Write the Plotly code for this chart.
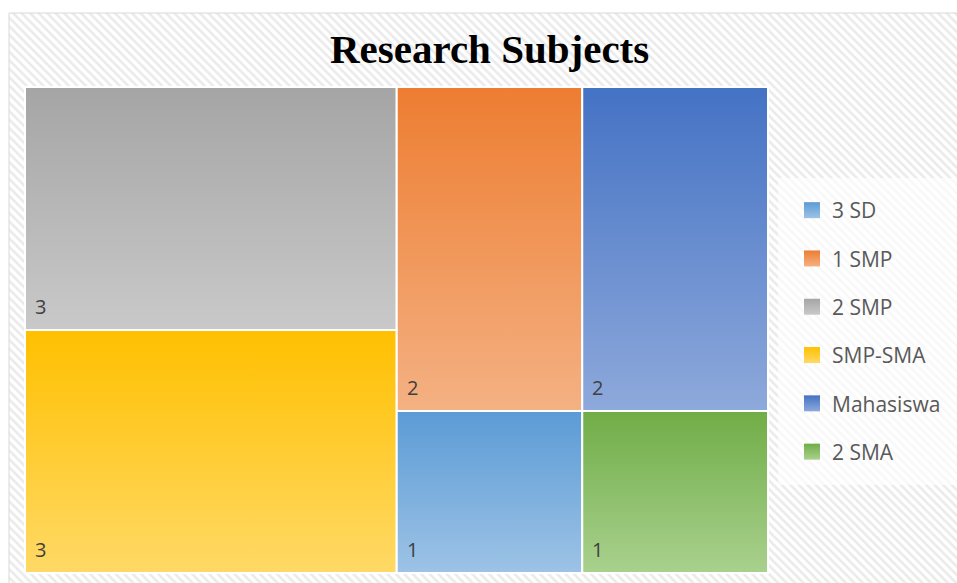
import plotly.graph_objects as go

# ---------------- data ----------------
categories = ["3 SD", "1 SMP", "2 SMP", "SMP-SMA", "Mahasiswa", "2 SMA"]
values = [1, 2, 3, 3, 2, 1]
top_colors = ["#5B9BD5", "#ED7D31", "#A5A5A5", "#FFC000", "#4472C4", "#70AD47"]
bottom_colors = ["#9DC3E6", "#F4B183", "#C9C9C9", "#FFD966", "#8EA9DB", "#A9D18E"]
title_text = "Research Subjects"

# ---------------- geometry (pixel-like axis space) ----------------
W, H = 957, 583
AREA_X0, AREA_Y0, AREA_W, AREA_H = 25, 87, 743, 486


def worst(row, side):
    s = sum(row)
    return max(max(side * side * r / (s * s), (s * s) / (side * side * r)) for r in row)


def squarify(vals, x, y, w, h):
    total = sum(vals)
    order = sorted(range(len(vals)), key=lambda i: -vals[i])
    areas = {i: vals[i] * w * h / total for i in order}
    rects = {}
    items = list(order)
    while items:
        side = min(w, h)
        row = [items[0]]
        k = 1
        while k < len(items):
            cur = [areas[i] for i in row]
            nxt = cur + [areas[items[k]]]
            if worst(nxt, side) <= worst(cur, side):
                row.append(items[k])
                k += 1
            else:
                break
        items = items[len(row):]
        s = sum(areas[i] for i in row)
        if w >= h:
            cw = s / h
            yy = y
            for i in row:
                hh = areas[i] / cw
                rects[i] = (x, yy, cw, hh)
                yy += hh
            x += cw
            w -= cw
        else:
            rh = s / w
            xx = x
            for i in row:
                ww = areas[i] / rh
                rects[i] = (xx, y, ww, rh)
                xx += ww
            y += rh
            h -= rh
    return rects


rects = squarify(values, AREA_X0, AREA_Y0, AREA_W, AREA_H)

fig = go.Figure()

# background frame with diagonal hatch
fx0, fy0 = 9, 13
fig.add_trace(go.Scatter(
    x=[fx0, W + 2, W + 2, fx0, fx0], y=[fy0, fy0, H + 2, H + 2, fy0],
    mode="lines", fill="toself",
    line=dict(color="#D9D9D9", width=1),
    fillcolor="white",
    fillpattern=dict(shape="\\", size=6, solidity=0.42, fgcolor="#D6D6D6", bgcolor="white"),
    showlegend=False, hoverinfo="skip",
))

annotations = []
for i, name in enumerate(categories):
    x, y, w, h = rects[i]
    fig.add_trace(go.Scatter(
        x=[x, x + w, x + w, x, x], y=[y, y, y + h, y + h, y],
        mode="lines", fill="toself",
        line=dict(color="white", width=2),
        fillcolor=top_colors[i],
        fillgradient=dict(type="vertical",
                          colorscale=[[0, bottom_colors[i]], [1, top_colors[i]]]),
        showlegend=False, name=name, hoverinfo="name",
    ))
    annotations.append(dict(
        x=x, y=y + h, xref="x", yref="y", text=str(values[i]),
        xanchor="left", yanchor="bottom", xshift=8, yshift=8, showarrow=False,
        font=dict(family="Open Sans", size=20, color="#404040"),
    ))

# legend entries
for i, name in enumerate(categories):
    fig.add_trace(go.Scatter(
        x=[None], y=[None], mode="markers", name=name,
        legendgroup=name,
        marker=dict(symbol="square", size=17, color=top_colors[i],
                    gradient=dict(type="vertical", color=bottom_colors[i])),
    ))

annotations.append(dict(
    x=489.5, y=49, xref="x", yref="y", text="<b>" + title_text + "</b>",
    xanchor="center", yanchor="middle", showarrow=False,
    font=dict(family="Liberation Serif", size=41, color="#000000"),
))

fig.update_layout(
    width=W, height=H,
    margin=dict(l=0, r=0, t=0, b=0),
    paper_bgcolor="white", plot_bgcolor="white",
    xaxis=dict(range=[0, W], visible=False, domain=[0, 1], fixedrange=True),
    yaxis=dict(range=[H, 0], visible=False, domain=[0, 1], fixedrange=True),
    annotations=annotations,
    shapes=[dict(type="rect", xref="x", yref="y", x0=778, x1=W + 2, y0=178, y1=485,
                 fillcolor="rgba(255,255,255,0.65)", line=dict(width=0), layer="above")],
    showlegend=True,
    legend=dict(
        x=792 / W, xanchor="left", y=1 - 190 / H, yanchor="top",
        bgcolor="rgba(0,0,0,0)",
        font=dict(family="Open Sans", size=21, color="#595959"),
        traceorder="grouped", tracegroupgap=18,
    ),
)

fig.write_html("out.html")
